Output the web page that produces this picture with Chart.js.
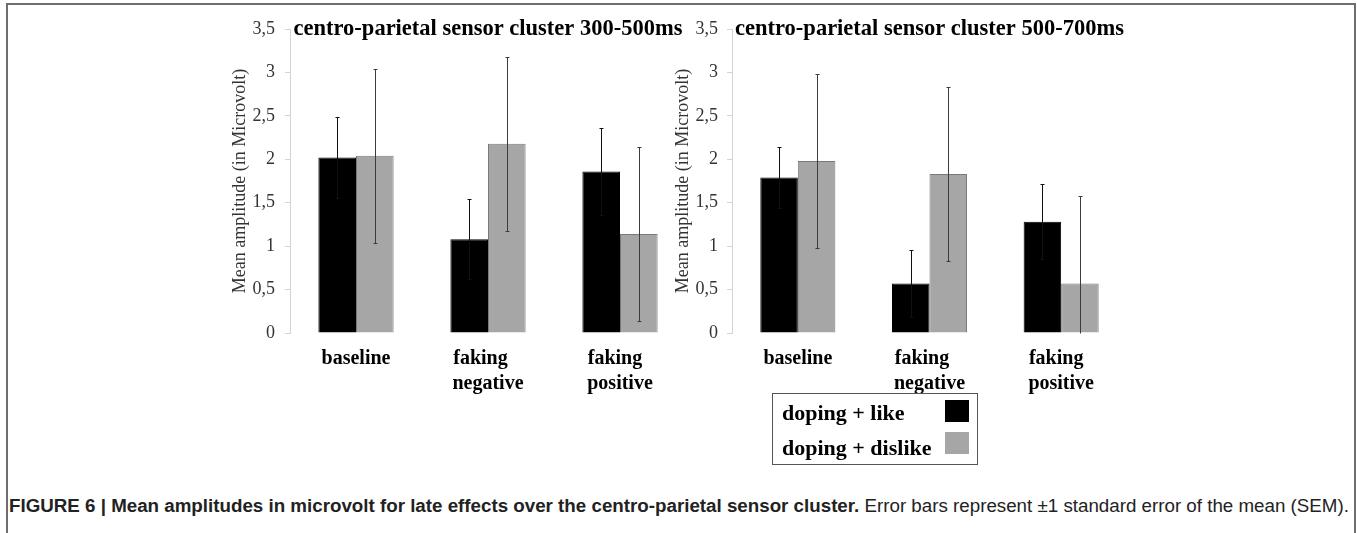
<!DOCTYPE html>
<html>
<head>
<meta charset="utf-8">
<script src="https://cdn.jsdelivr.net/npm/chart.js@4.4.1/dist/chart.umd.min.js"></script>
<style>
  body { margin: 0; background: #fff; width: 1357px; height: 533px; overflow: hidden; position: relative; }
  #frame { position: absolute; left: 6px; top: 3px; width: 1350px; height: 560px; box-sizing: border-box;
           border: 2px solid #6e6e6e; border-bottom: none; }
  canvas { position: absolute; top: 0; }
  #left { left: 200px; }
  #right { left: 640px; }
  #legend { position: absolute; left: 772px; top: 393px; width: 206px; height: 72px; box-sizing: border-box;
            border: 1.5px solid #555; font: bold 22px "Liberation Serif", serif; color: #000; }
  #legend .row { position: absolute; left: 9px; height: 30px; line-height: 30px; white-space: nowrap; }
  #legend .box { position: absolute; left: 172px; width: 24px; height: 22px; }
  #caption { position: absolute; left: 9px; top: 495px; font: 18.75px "Liberation Sans", Arial, sans-serif;
             color: #222; white-space: nowrap; }
</style>
</head>
<body>
<div id="frame"></div>
<canvas id="left" width="500" height="400"></canvas>
<canvas id="right" width="500" height="400"></canvas>
<div id="legend"></div>
<div id="caption"><b>FIGURE 6 | Mean amplitudes in microvolt for late effects over the centro-parietal sensor cluster.</b> Error bars represent ±1 standard error of the mean (SEM).</div>

<script>
// Data
const categories = [['baseline'], ['faking', 'negative'], ['faking', 'positive']];
const seriesNames = ['doping + like', 'doping + dislike'];

// 300-500ms window
const early_like = [2.02, 1.08, 1.86];
const early_like_sem = [0.47, 0.46, 0.50];
const early_dislike = [2.04, 2.18, 1.14];
const early_dislike_sem = [1.00, 1.00, 1.00];

// 500-700ms window
const late_like = [1.79, 0.57, 1.28];
const late_like_sem = [0.35, 0.39, 0.43];
const late_dislike = [1.98, 1.83, 0.57];
const late_dislike_sem = [1.00, 1.00, 1.01];

const serif = '"Liberation Serif", "Times New Roman", serif';
const labelFont = { family: serif, size: 20, weight: 'bold', lineHeight: 1.25 };

// pad short lines with spaces so the centred lines of a label start at the same x
const measure = document.createElement('canvas').getContext('2d');
measure.font = 'bold 20px ' + serif;
function padLines(lines) {
    const widest = Math.max(...lines.map(l => measure.measureText(l).width));
    return lines.map(l => {
        let s = l;
        while (measure.measureText(s + ' ').width <= widest + 2) s += ' ';
        return s;
    });
}

// draws +-1 SEM whiskers on top of every bar
const errorBars = {
    id: 'errorBars',
    afterDatasetsDraw(chart) {
        const ctx = chart.ctx;
        const y = chart.scales.y;
        ctx.save();
        ctx.lineWidth = 1;
        chart.data.datasets.forEach((ds, i) => {
            ctx.strokeStyle = ds.errorColor;
            chart.getDatasetMeta(i).data.forEach((bar, j) => {
                const v = ds.data[j];
                const e = ds.errors[j];
                const x = Math.round(bar.x) + 0.5;
                const top = Math.round(y.getPixelForValue(v + e)) + 0.5;
                const lo = v - e;
                const bot = Math.round(y.getPixelForValue(Math.max(lo, 0))) + 0.5;
                ctx.beginPath();
                ctx.moveTo(x, top);
                ctx.lineTo(x, bot);
                ctx.moveTo(x - 2, top);
                ctx.lineTo(x + 2, top);
                if (lo > 0) {
                    ctx.moveTo(x - 2, bot);
                    ctx.lineTo(x + 2, bot);
                }
                ctx.stroke();
            });
        });
        ctx.restore();
    }
};

function makeChart(id, title, like, likeSem, dislike, dislikeSem, axisWidth, titlePad, tickPad, padRight) {
    return new Chart(document.getElementById(id), {
        type: 'bar',
        data: {
            labels: categories,
            datasets: [
                {
                    label: seriesNames[0],
                    data: like,
                    errors: likeSem,
                    errorColor: '#111111',
                    backgroundColor: '#000000',
                    borderColor: '#000000',
                    borderWidth: 1
                },
                {
                    label: seriesNames[1],
                    data: dislike,
                    errors: dislikeSem,
                    errorColor: '#3c3c3c',
                    backgroundColor: '#a6a6a6',
                    borderColor: '#7a7a7a',
                    borderWidth: 1
                }
            ]
        },
        options: {
            responsive: false,
            animation: false,
            events: [],
            categoryPercentage: 0.57,
            barPercentage: 1.0,
            layout: { padding: { left: 0, right: padRight, top: 0, bottom: 0 } },
            plugins: {
                legend: { display: false },
                tooltip: { enabled: false },
                title: {
                    display: true,
                    text: title,
                    fullSize: false,
                    color: '#000',
                    font: { family: serif, size: 22.5, weight: 'bold', lineHeight: 1.2 },
                    padding: { top: 16, bottom: -14 }
                }
            },
            scales: {
                x: {
                    grid: { display: false, drawTicks: false },
                    border: { display: false },
                    ticks: {
                        color: '#000',
                        font: labelFont,
                        padding: 13,
                        maxRotation: 0,
                        autoSkip: false,
                        callback: (value, index) => padLines(categories[index])
                    },
                    afterFit: scale => { scale.height = 67; }
                },
                y: {
                    min: 0,
                    max: 3.5,
                    grid: { display: true, drawOnChartArea: false, drawTicks: true, tickLength: 5, color: '#d4d4d4' },
                    border: { display: true, color: '#d4d4d4', width: 1 },
                    ticks: {
                        stepSize: 0.5,
                        color: '#333',
                        padding: tickPad,
                        font: { family: serif, size: 18 },
                        callback: v => String(v).replace('.', ',')
                    },
                    title: {
                        display: true,
                        text: 'Mean amplitude (in Microvolt)',
                        color: '#333',
                        font: { family: serif, size: 18 },
                        padding: { top: titlePad, bottom: 0 }
                    },
                    afterFit: scale => { scale.width = axisWidth; }
                }
            }
        },
        plugins: [errorBars]
    });
}

const leftChart = makeChart('left', 'centro-parietal sensor cluster 300-500ms',
    early_like, early_like_sem, early_dislike, early_dislike_sem, 90, 29, 10, 14);
const rightChart = makeChart('right', 'centro-parietal sensor cluster 500-700ms',
    late_like, late_like_sem, late_dislike, late_dislike_sem, 92, 32, 9, 13);

// legend box under the right panel, built from the chart's datasets
const legend = document.getElementById('legend');
rightChart.data.datasets.forEach((ds, i) => {
    const row = document.createElement('div');
    row.className = 'row';
    row.style.top = (4 + i * 35) + 'px';
    row.textContent = ds.label;
    legend.appendChild(row);
    const box = document.createElement('div');
    box.className = 'box';
    box.style.top = (6 + i * 32) + 'px';
    box.style.background = ds.backgroundColor;
    legend.appendChild(box);
});
</script>
</body>
</html>
